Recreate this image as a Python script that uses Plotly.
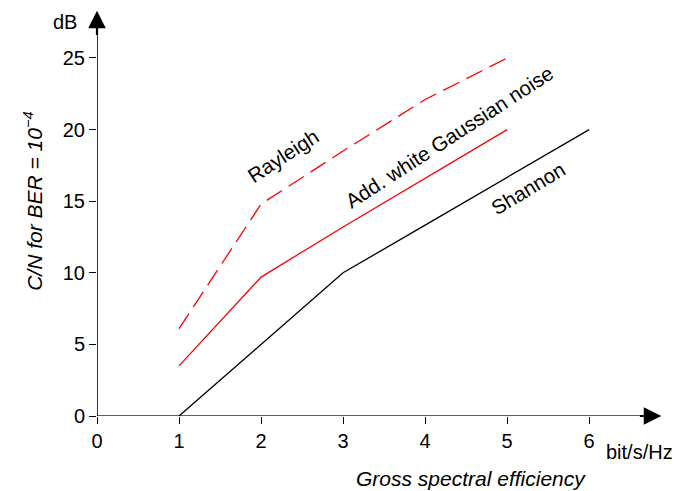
import plotly.graph_objects as go

# Data
shannon_x = [1, 2, 3, 4, 5, 6]
shannon_y = [0, 5, 10, 13.33, 16.67, 20]
awgn_x = [1, 2, 3, 4, 5]
awgn_y = [3.5, 9.7, 13.2, 16.6, 20]
rayleigh_x = [1, 2, 3, 4, 5]
rayleigh_y = [6.1, 14.8, 18.5, 22.1, 25]
x_ticks = [0, 1, 2, 3, 4, 5, 6]
y_ticks = [0, 5, 10, 15, 20, 25]

FONT = "Liberation Sans, Arial, sans-serif"
XMAX = 6.9
YMAX = 28.35

fig = go.Figure()
fig.add_trace(go.Scatter(x=shannon_x, y=shannon_y, mode="lines",
                         line=dict(color="black", width=1.3), showlegend=False))
fig.add_trace(go.Scatter(x=awgn_x, y=awgn_y, mode="lines",
                         line=dict(color="#ff0000", width=1.3), showlegend=False))
fig.add_trace(go.Scatter(x=rayleigh_x, y=rayleigh_y, mode="lines",
                         line=dict(color="#ff0000", width=1.3, dash="18px,8px"),
                         showlegend=False))

# axis lines
fig.add_shape(type="line", x0=0, y0=0, x1=6.75, y1=0, xref="x", yref="y",
              line=dict(color="#606060", width=2.2), layer="below")
fig.add_shape(type="line", x0=0, y0=0, x1=0, y1=27.5, xref="x", yref="y",
              line=dict(color="black", width=1.6), layer="below")
# arrow heads
fig.add_annotation(x=6.88, y=0, ax=6.6, ay=0, axref="x", ayref="y", xref="x", yref="y",
                   showarrow=True, arrowhead=2, arrowsize=1.6, arrowwidth=2.2,
                   arrowcolor="black", text="")
fig.add_annotation(x=0, y=28.3, ax=0, ay=26.5, axref="x", ayref="y", xref="x", yref="y",
                   showarrow=True, arrowhead=2, arrowsize=1.6, arrowwidth=2.2,
                   arrowcolor="black", text="")

tf = dict(family=FONT, size=20, color="black")
ttf = dict(family=FONT, size=21, color="black")
# unit labels
fig.add_annotation(x=-0.0565, y=0.970, xref="paper", yref="paper", text="dB",
                   showarrow=False, font=tf, xanchor="center", yanchor="middle")
fig.add_annotation(x=0.959, y=-0.0887, xref="paper", yref="paper", text="bit/s/Hz",
                   showarrow=False, font=tf, xanchor="center", yanchor="middle")
# axis titles
fig.add_annotation(x=0.661, y=-0.155, xref="paper", yref="paper",
                   text="<i>Gross spectral efficiency</i>", showarrow=False, font=ttf,
                   xanchor="center", yanchor="middle")
fig.add_annotation(x=-0.113, y=0.53, xref="paper", yref="paper",
                   text="<i>C/N for BER = 10<sup>−4</sup></i>", textangle=-90,
                   showarrow=False, font=ttf, xanchor="center", yanchor="middle")

# curve labels
lf = dict(family=FONT, size=20.5, color="black")
fig.add_annotation(x=2.27, y=18.2, xref="x", yref="y", text="Rayleigh", textangle=-33,
                   showarrow=False, font=lf)
fig.add_annotation(x=4.3, y=19.5, xref="x", yref="y", text="Add. white Gaussian noise",
                   textangle=-33, showarrow=False, font=lf)
fig.add_annotation(x=5.25, y=15.9, xref="x", yref="y", text="Shannon", textangle=-31,
                   showarrow=False, font=lf)

fig.update_layout(
    width=680, height=491,
    margin=dict(l=97, r=17, t=10, b=75),
    paper_bgcolor="white", plot_bgcolor="white",
    xaxis=dict(range=[0, XMAX], tickvals=x_ticks, ticks="outside", ticklen=7,
               tickcolor="black", tickwidth=1.2, showgrid=False, zeroline=False,
               showline=False, tickfont=tf, fixedrange=True),
    yaxis=dict(range=[0, YMAX], tickvals=y_ticks, ticks="outside", ticklen=7,
               tickcolor="black", tickwidth=1.2, showgrid=False, zeroline=False,
               showline=False, tickfont=tf, fixedrange=True),
)
fig.write_html("out.html", config={"displayModeBar": False})
with open("out.html", "r", encoding="utf-8") as f:
    html = f.read()
html = html.replace("<head>", "<head><style>html,body{margin:0;padding:0;overflow:hidden}</style>", 1)
with open("out.html", "w", encoding="utf-8") as f:
    f.write(html)
